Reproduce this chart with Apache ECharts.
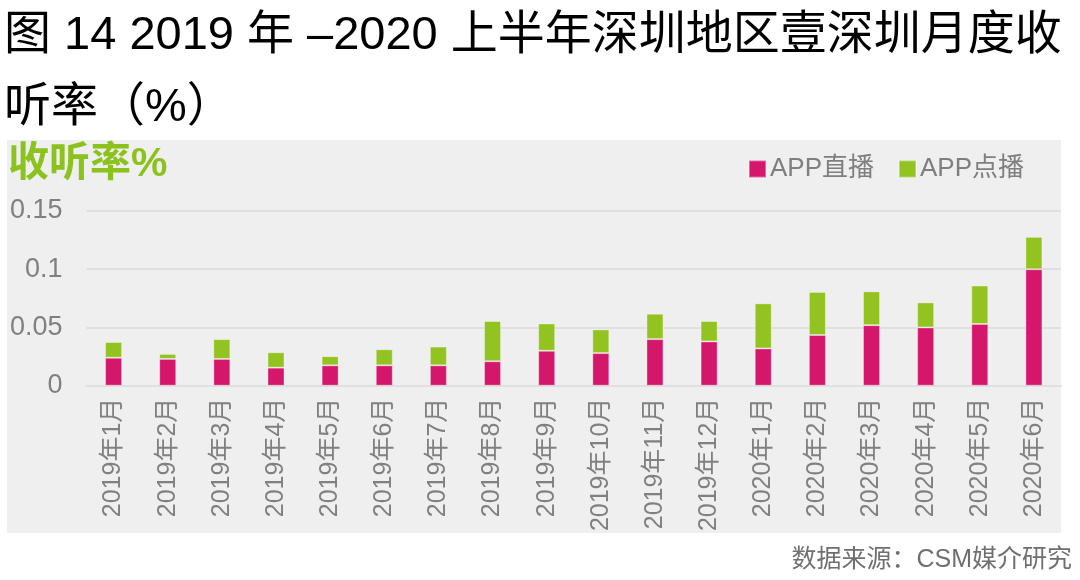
<!DOCTYPE html>
<html>
<head>
<meta charset="utf-8">
<script src="https://cdn.jsdelivr.net/npm/echarts@6/dist/echarts.min.js"></script>
<style>
html,body{margin:0;padding:0;background:#fff;}
#c{width:1080px;height:580px;}
</style>
</head>
<body>
<div id="c"></div>
<script>
var categories = ['2019年1月','2019年2月','2019年3月','2019年4月','2019年5月','2019年6月','2019年7月','2019年8月','2019年9月','2019年10月','2019年11月','2019年12月','2020年1月','2020年2月','2020年3月','2020年4月','2020年5月','2020年6月'];
var liveValues = [0.024, 0.023, 0.023, 0.0155, 0.0175, 0.0175, 0.0175, 0.021, 0.030, 0.028, 0.040, 0.038, 0.032, 0.0435, 0.052, 0.050, 0.053, 0.100];
var vodValues  = [0.0135, 0.0043, 0.017, 0.0132, 0.0078, 0.0138, 0.0161, 0.0345, 0.0234, 0.0203, 0.0218, 0.0175, 0.0387, 0.037, 0.029, 0.0215, 0.033, 0.0278];
var seriesNames = ['APP直播', 'APP点播'];
var yTicks = [0, 0.05, 0.1, 0.15];

var FONT = '"Liberation Sans", Arial, "Noto Sans CJK SC", sans-serif';
var chart = echarts.init(document.getElementById('c'), null, {renderer: 'canvas'});
chart.setOption({
  animation: false,
  backgroundColor: '#ffffff',
  textStyle: {fontFamily: FONT},
  title: {
    text: '图 14 2019 年 –2020 上半年深圳地区壹深圳月度收\n听率（%）',
    left: 4, top: 0, padding: [0, 0, 0, 0],
    textStyle: {fontFamily: FONT, fontSize: 47, fontWeight: 'normal', color: '#000', lineHeight: 72}
  },
  graphic: [
    {type: 'rect', left: 7, top: 140, z: -10, shape: {width: 1054, height: 393}, style: {fill: '#efefef'}},
    {type: 'text', left: 8, top: 144, z: 10, style: {text: '收听率%', fontFamily: FONT, fontSize: 41, fontWeight: 'bold', fill: '#8cc21e'}},
    {type: 'text', right: 8, top: 548, z: 10, style: {text: '数据来源：CSM媒介研究', fontFamily: FONT, fontSize: 25, fill: '#6f6f6f'}}
  ],
  legend: {
    left: 748, top: 156, padding: 0,
    itemWidth: 17, itemHeight: 17, itemGap: 24,
    icon: 'rect',
    textStyle: {fontFamily: FONT, fontSize: 26, color: '#7f7f7f', padding: [0, 0, 0, -1]},
    data: seriesNames
  },
  grid: {left: 86.5, right: 19, top: 211, bottom: 194.3, containLabel: false},
  xAxis: {
    type: 'category',
    data: categories,
    axisLine: {show: true, lineStyle: {color: '#e0e0e0', width: 2}},
    axisTick: {show: false},
    axisLabel: {rotate: 90, interval: 0, margin: 12, fontFamily: FONT, fontSize: 25, color: '#808080'}
  },
  yAxis: {
    type: 'value',
    min: yTicks[0], max: yTicks[yTicks.length - 1], interval: 0.05,
    axisLine: {show: false},
    axisTick: {show: false},
    axisLabel: {margin: 24, fontFamily: FONT, fontSize: 27, color: '#808080'},
    splitLine: {show: true, lineStyle: {color: '#e0e0e0', width: 2}}
  },
  series: [
    {name: seriesNames[0], type: 'bar', stack: 'total', barWidth: 17, data: liveValues,
     itemStyle: {color: '#d5176c', borderColor: 'rgba(255,255,255,0.35)', borderWidth: 1}},
    {name: seriesNames[1], type: 'bar', stack: 'total', barWidth: 17, data: vodValues,
     itemStyle: {color: '#92c320', borderColor: 'rgba(255,255,255,0.35)', borderWidth: 1}}
  ]
});
</script>
</body>
</html>
